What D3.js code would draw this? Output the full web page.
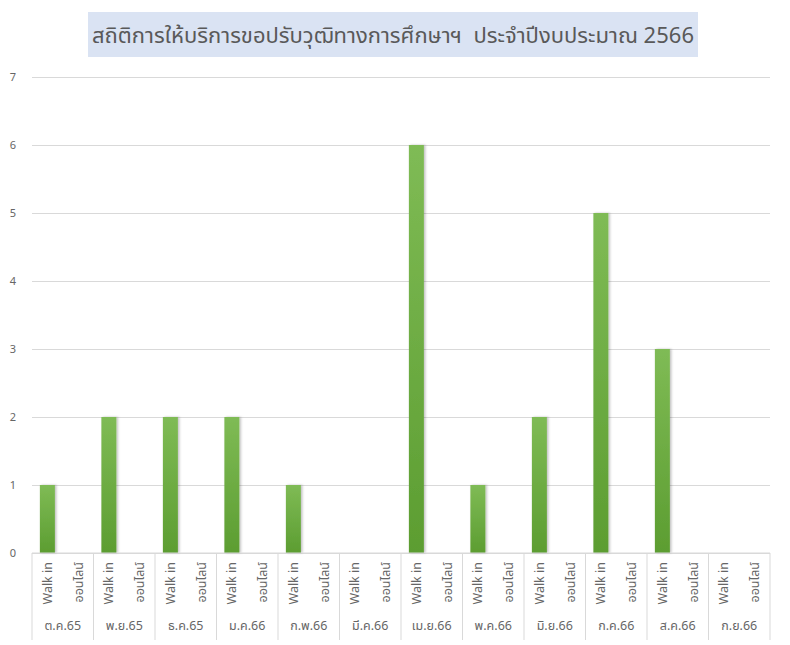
<!DOCTYPE html>
<html><head><meta charset="utf-8">
<script src="https://cdn.jsdelivr.net/npm/d3@7"></script>
<style>body{margin:0;background:#fff}svg{display:block}text{font-family:Tahoma,"Leelawadee UI","Noto Sans Thai","Noto Sans",sans-serif;white-space:pre}</style>
</head><body><svg id="c" width="790" height="645"></svg>
<script>
const title = "สถิติการให้บริการขอปรับวุฒิทางการศึกษาฯ  ประจำปีงบประมาณ 2566";
const months = ["ต.ค.65","พ.ย.65","ธ.ค.65","ม.ค.66","ก.พ.66","มี.ค.66","เม.ย.66","พ.ค.66","มิ.ย.66","ก.ค.66","ส.ค.66","ก.ย.66"];
const subCats = ["Walk in","ออนไลน์"];
const walkIn = [1,2,2,2,1,0,6,1,2,5,3,0];
const online = [0,0,0,0,0,0,0,0,0,0,0,0];
const yTicks = [0,1,2,3,4,5,6,7];

const svg = d3.select("#c");
const L = 32, R = 770, T = 77, B = 553;
const x0 = d3.scaleBand().domain(months).range([L, R]);
const x1 = d3.scaleBand().domain(subCats).range([0, x0.bandwidth()]);
const y = d3.scaleLinear().domain([0,7]).range([B, T]);

const defs = svg.append("defs");
const g = defs.append("linearGradient").attr("id","gr").attr("x1",0).attr("y1",0).attr("x2",0).attr("y2",1);
g.append("stop").attr("offset","0%").attr("stop-color","#7fbb55");
g.append("stop").attr("offset","100%").attr("stop-color","#5c9d31");
const f = defs.append("filter").attr("id","sh").attr("x","-30%").attr("y","-10%").attr("width","160%").attr("height","120%");
f.append("feDropShadow").attr("dx",1.5).attr("dy",0).attr("stdDeviation",1.2).attr("flood-color","#000").attr("flood-opacity",0.25);

// title box
svg.append("rect").attr("x",88).attr("y",12).attr("width",610).attr("height",45).attr("fill","#dae3f3");
svg.append("text").attr("x",393).attr("y",43).attr("text-anchor","middle").attr("font-size",22).attr("fill","#595959").text(title);

// grid
const yAxis = d3.axisLeft(y).tickValues(yTicks).tickSize(-(R-L)).tickFormat(d3.format("d"));
const ga = svg.append("g").attr("transform",`translate(${L},0)`).call(yAxis);
ga.select(".domain").remove();
ga.selectAll(".tick line").attr("stroke","#d9d9d9");
ga.selectAll(".tick text").attr("x",-19).attr("font-size",11).attr("fill","#666").attr("text-anchor","middle");

// bars
const data = months.map((m,i)=>({m, vals:[{k:"Walk in",v:walkIn[i]},{k:"ออนไลน์",v:online[i]}]}));
const bw = 15;
const gg = svg.append("g").selectAll("g").data(data).join("g").attr("transform",d=>`translate(${x0(d.m)},0)`);
gg.selectAll("rect").data(d=>d.vals.filter(e=>e.v>0)).join("rect")
  .attr("x",e=>x1(e.k)+x1.bandwidth()/2-bw/2).attr("width",bw)
  .attr("y",e=>y(e.v)).attr("height",e=>B-y(e.v))
  .attr("fill","url(#gr)").attr("filter","url(#sh)");

// category axis
svg.append("line").attr("x1",L).attr("x2",R).attr("y1",B).attr("y2",B).attr("stroke","#d9d9d9");
const seps = months.map(m=>x0(m)).concat([R]);
svg.append("g").selectAll("line").data(seps).join("line")
  .attr("x1",d=>d).attr("x2",d=>d).attr("y1",B).attr("y2",640).attr("stroke","#d9d9d9");
months.forEach(m=>{
  subCats.forEach(s=>{
    const cx = x0(m)+x1(s)+x1.bandwidth()/2;
    svg.append("text").attr("transform",`translate(${cx+4.5},562) rotate(-90)`)
      .attr("text-anchor","end").attr("font-size",12.5).attr("fill","#666").text(s);
  });
  svg.append("text").attr("x",x0(m)+x0.bandwidth()/2).attr("y",630).attr("text-anchor","middle")
    .attr("font-size",12.5).attr("fill","#666").text(m);
});
</script></body></html>
